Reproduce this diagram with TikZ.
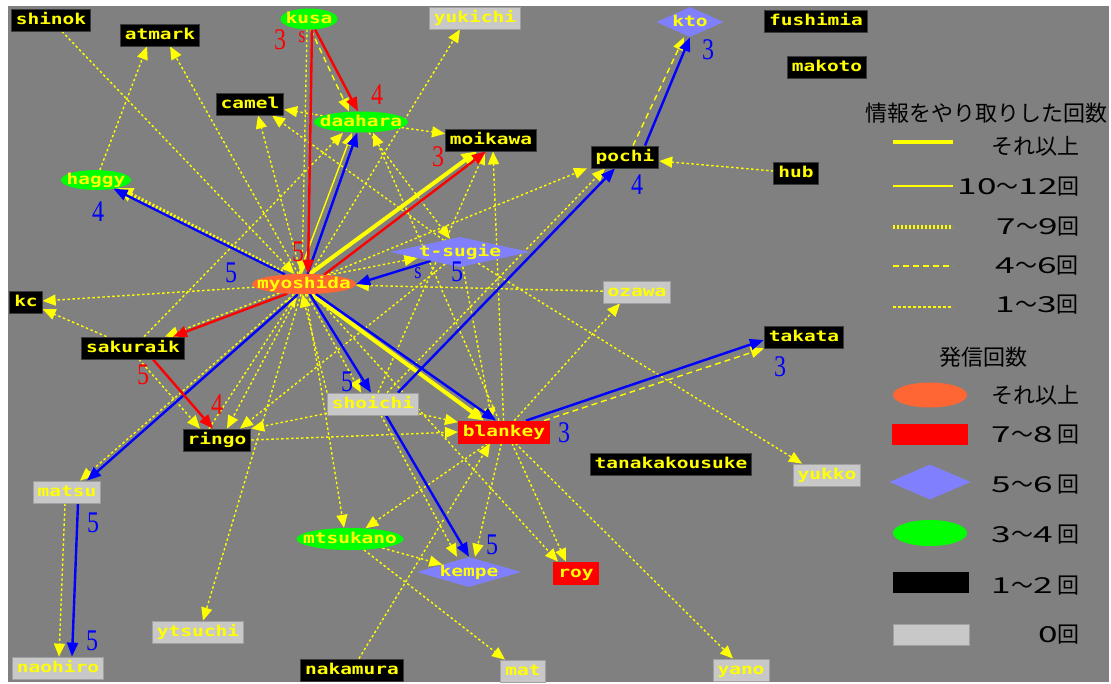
\documentclass[tikz,border=0pt]{standalone}
\usepackage{fontspec}
\setmainfont{Liberation Serif}
\newfontfamily\nodefont{DejaVu Sans Mono}[FakeStretch=1.3]
\newfontfamily\numfont{Liberation Serif}[FakeStretch=0.8]
\newfontfamily\jpfont{Noto Sans CJK JP}
\newfontfamily\jpwide{Noto Sans CJK JP}[FakeStretch=1.6]
\usetikzlibrary{arrows.meta,shapes.geometric}
\definecolor{mlGrey}{HTML}{808080}
\definecolor{mlPale}{HTML}{C8C8C8}
\definecolor{mlLilac}{HTML}{8080FF}
\definecolor{mlOrange}{HTML}{FF6633}
\definecolor{mlYellow}{HTML}{FFFF00}
\definecolor{mlBlue}{HTML}{0000FF}
\definecolor{mlRed}{HTML}{FF0000}
\definecolor{mlGreen}{HTML}{00FF00}
\pgfdeclarelayer{paper}
\pgfdeclarelayer{edges}
\pgfsetlayers{paper,edges,main}
\newcommand\zw[1]{\makebox[0pt]{#1}}
\newcommand\wdg[1]{{\jpwide #1}}

\begin{document}
\begin{tikzpicture}[x=1pt,y=-1pt,line join=round]
\useasboundingbox (0,0) rectangle (1111,683);
\begin{pgfonlayer}{paper}
\path[fill=white] (0,0) rectangle (1111,683);
\path[fill=mlGrey] (8,6) rectangle (1109,682);
\end{pgfonlayer}
\tikzset{who/.style={font=\nodefont\bfseries\fontsize{15pt}{15pt}\selectfont,text=mlYellow,text height=11pt,text depth=3pt},
nbox/.style={who,rectangle,fill=black,draw=black!55!mlGrey,line width=0.8pt,minimum height=22pt,inner xsep=4.5pt,inner ysep=0pt},
zbox/.style={nbox,fill=mlPale,draw=mlPale!80!black},rbox/.style={nbox,fill=mlRed,draw=mlRed},
gell/.style={who,ellipse,fill=mlGreen,inner sep=0pt},oell/.style={who,ellipse,fill=mlOrange,inner sep=0pt},ldia/.style={who,diamond,fill=mlLilac,inner sep=0pt},
bnum/.style={font=\numfont\fontsize{30pt}{30pt}\selectfont,text=mlBlue,inner sep=0pt},rnum/.style={bnum,text=mlRed},
bsml/.style={bnum,font=\numfont\fontsize{23pt}{23pt}\selectfont},rsml/.style={bsml,text=mlRed},
ex1/.style={draw=mlYellow,line width=1.4pt,dash pattern=on 2.5pt off 2.5pt,-{Triangle[length=13pt,width=11pt]}},
ex4/.style={ex1,dash pattern=on 6pt off 4pt},ex7/.style={ex1,line width=4.5pt,dash pattern=on 2pt off 2pt,-{Triangle[length=15pt,width=14pt]}},
ex10/.style={ex1,solid},exmax/.style={ex1,solid,line width=4pt,-{Triangle[length=15pt,width=14pt]}},
blu/.style={draw=mlBlue,line width=2.4pt,-{Triangle[length=14pt,width=11pt]}},rd/.style={blu,draw=mlRed},
jp/.style={font=\jpfont\fontsize{22pt}{22pt}\selectfont,text=black,inner sep=0pt}}
\node[nbox] (shinok) at (51,20) {shinok};
\node[nbox] (atmark) at (160,35) {atmark};
\node[gell,minimum width=57pt,minimum height=21pt] (kusa) at (309,19) {\zw{kusa}};
\node[nbox] (camel) at (250,104) {camel};
\node[gell,minimum width=94pt,minimum height=21pt] (daahara) at (361,122) {\zw{daahara}};
\node[gell,minimum width=70pt,minimum height=17pt] (haggy) at (96,180) {\zw{haggy}};
\node[zbox] (yukichi) at (475,18) {yukichi};
\node[ldia,minimum width=67pt,minimum height=30pt] (kto) at (690,22) {\zw{kto}};
\node[nbox] (moikawa) at (491,140) {moikawa};
\node[nbox] (pochi) at (625,157) {pochi};
\node[nbox] (fushimia) at (816,21) {fushimia};
\node[nbox] (makoto) at (827,67) {makoto};
\node[nbox] (hub) at (796,173) {hub};
\node[nbox] (kc) at (26,302) {kc};
\node[oell,minimum width=104pt,minimum height=20pt] (myoshida) at (304,284) {\zw{myoshida}};
\node[nbox] (sakuraik) at (133,348) {sakuraik};
\node[nbox] (ringo) at (217,440) {ringo};
\node[zbox] (shoichi) at (373,404) {shoichi};
\node[ldia,minimum width=140pt,minimum height=30pt] (tsugie) at (460,252) {\zw{t-sugie}};
\node[zbox] (ozawa) at (637,292) {ozawa};
\node[rbox] (blankey) at (504,432) {blankey};
\node[nbox] (takata) at (804,337) {takata};
\node[nbox] (tanaka) at (671,464) {tanakakousuke};
\node[zbox] (yukko) at (827,475) {yukko};
\node[zbox] (matsu) at (67,492) {matsu};
\node[zbox] (naohiro) at (58,668) {naohiro};
\node[zbox] (ytsuchi) at (198,632) {ytsuchi};
\node[gell,minimum width=107pt,minimum height=22pt] (mtsukano) at (350,539) {\zw{mtsukano}};
\node[ldia,minimum width=104pt,minimum height=30pt] (kempe) at (469,572) {\zw{kempe}};
\node[rbox] (roy) at (576,573) {roy};
\node[nbox] (nakamura) at (352,670) {nakamura};
\node[zbox] (mat) at (523,671) {mat};
\node[zbox] (yano) at (741,670) {yano};
\begin{pgfonlayer}{edges}
\draw[ex1] (shinok) -- (myoshida);
\draw[ex1] (haggy) -- ([xshift=-13pt]atmark.south); \draw[ex1] (myoshida) -- ([xshift=10pt]atmark.south);
\draw[ex1] (myoshida) -- ([xshift=8pt]camel.south); \draw[ex1] (tsugie) -- ([xshift=22pt]camel.south); \draw[ex1] (daahara) -- (camel);
\draw[ex1] ([xshift=-2pt]kusa.south) -- ([xshift=-2pt]myoshida.north);
\draw[ex1] (daahara) -- (moikawa); \draw[ex1] (myoshida) -- ([xshift=-15pt]yukichi.south); \draw[ex1] (daahara) -- (tsugie);
\draw[ex1] (myoshida) -- (kc); \draw[ex1] (sakuraik) -- (kc);
\draw[ex1] (myoshida.-160) -- ([xshift=32pt]sakuraik.north); \draw[ex1] (sakuraik) -- ([xshift=-18pt]daahara.south);
\draw[ex1] ([xshift=6pt]sakuraik.south) -- ([xshift=-17pt]ringo.north);
\draw[ex1] (myoshida) -- ([xshift=10pt]ringo.north); \draw[ex1] (tsugie) -- ([xshift=23pt]ringo.north);
\draw[ex1] (shoichi) -- (ringo.north east); \draw[ex1] (ringo.east) -- (blankey.west);
\draw[ex1] ([xshift=-8pt]ringo.north) -- (myoshida.-125);
\draw[ex1] (myoshida) -- ([xshift=-38pt]pochi.south); \draw[ex1] (hub) -- ([yshift=-4pt]pochi.east);
\draw[ex1] ([xshift=14pt]shoichi.north) -- ([xshift=-20pt]pochi.south);
\draw[ex1] (blankey) -- ([xshift=2pt]moikawa.south); \draw[ex1] (shoichi) -- ([xshift=-6pt]moikawa.south);
\draw[ex1] (ozawa) -- (myoshida); \draw[ex1] (blankey) -- ([xshift=-17pt]ozawa.south);
\draw[ex1] (tsugie) -- ([xshift=-25pt]yukko.north); \draw[ex1] (blankey) -- ([xshift=-8pt]yano.north);
\draw[ex1] (mtsukano) -- ([xshift=-18pt]mat.north); \draw[ex1] (nakamura) -- ([xshift=-14pt]blankey.south);
\draw[ex1] ([xshift=8pt]blankey.south) -- ([xshift=-10pt]roy.north); \draw[ex1] (myoshida) -- ([xshift=-18pt]roy.north);
\draw[ex1] (blankey) -- ([xshift=6pt]kempe.north); \draw[ex1] (mtsukano) -- (kempe);
\draw[ex1] ([xshift=8pt]shoichi.south) -- ([xshift=-12pt]kempe.north);
\draw[ex1] (myoshida) -- ([xshift=-6pt]mtsukano.north); \draw[ex1] (blankey) -- (mtsukano);
\draw[ex1] (myoshida) -- ([xshift=5pt]ytsuchi.north);
\draw[ex1] ([xshift=-2pt]matsu.south) -- ([xshift=1pt]naohiro.north);
\draw[ex1] (myoshida.-135) -- ([xshift=13pt]matsu.north);
\draw[ex1] (myoshida.20) -- (tsugie.-172); \draw[ex1] (myoshida.-75) -- ([xshift=-12pt]shoichi.north);
\draw[ex1] (shoichi) -- (blankey); \draw[ex1] (blankey) -- ([xshift=12pt]daahara.south);
\draw[ex1] (tsugie) -- ([xshift=-12pt]blankey.north); \draw[ex1] (shoichi.north west) -- (myoshida.-100);
\draw[ex4] (kusa.-80) -- ([xshift=-12pt]daahara.north);
\draw[ex4] ([xshift=8pt]pochi.north) -- ([xshift=-6pt]kto.south);
\draw[ex4] ([xshift=40pt]blankey.north) -- (takata.south west);
\draw[ex7] ([shift={(-22,-12)}]myoshida.center) -- (haggy.-20);
\draw[ex10] ([xshift=-5pt]myoshida.north) -- ([xshift=-9pt]daahara.south);
\draw[exmax] (myoshida.60) -- ([xshift=-14pt]moikawa.south);
\draw[exmax] (myoshida.-55) -- ([xshift=-20pt]blankey.north);
\draw[blu] (myoshida) -- (haggy);
\draw[blu] (myoshida) -- (daahara);
\draw[blu] (tsugie.-163) -- (myoshida.east);
\draw[blu] (myoshida.-60) -- ([xshift=-2pt]shoichi.north);
\draw[blu] (myoshida.-40) -- ([xshift=-8pt]blankey.north);
\draw[blu] (myoshida.-120) -- ([xshift=20pt]matsu.north);
\draw[blu] ([xshift=11pt]matsu.south) -- ([xshift=14pt]naohiro.north);
\draw[blu] ([xshift=22pt]blankey.north) -- ([yshift=-3pt]takata.west);
\draw[blu] ([xshift=25pt]shoichi.north) -- ([xshift=-10pt]pochi.south);
\draw[blu] ([xshift=20pt]pochi.north) -- (kto.south);
\draw[blu] ([xshift=13pt]shoichi.south) -- (kempe.north);
\draw[rd] ([xshift=3pt]kusa.south) -- ([xshift=4pt]myoshida.north);
\draw[rd] (kusa.-60) -- ([xshift=-3pt]daahara.north);
\draw[rd] (myoshida.25) -- ([xshift=-5pt]moikawa.south);
\draw[rd] (myoshida.-150) -- ([xshift=40pt]sakuraik.north);
\draw[rd] ([xshift=20pt]sakuraik.south) -- ([xshift=-4pt]ringo.north);
\end{pgfonlayer}
\node[bnum] (n4haggy) at (98,212) {4}; \node[bnum] (n5left) at (231,273) {5};
\node[bnum] (n5shoichi) at (347,382) {5}; \node[bsml] (nsSugie) at (418,273) {s}; \node[bnum] (n5sugie) at (457,272) {5};
\node[bnum] (n3blankey) at (564,433) {3}; \node[bnum] (n3takata) at (780,367) {3};
\node[bnum] (n4pochi) at (637,185) {4}; \node[bnum] (n3kto) at (708,50) {3}; \node[bnum] (n5kempe) at (492,545) {5};
\node[bnum] (n5matsu) at (93,523) {5}; \node[bnum] (n5naohiro) at (92,641) {5};
\node[rnum] (n3kusa) at (280,40) {3}; \node[rsml] (nsKusa) at (302,37) {s}; \node[rnum] (n4daahara) at (377,95) {4};
\node[rnum] (n5myoshida) at (298,252) {5}; \node[rnum] (n3moikawa) at (438,157) {3};
\node[rnum] (n5sakuraik) at (143,375) {5}; \node[rnum] (n4ringo) at (217,405) {4};
\node[jp] (keyTitleA) at (986,113) {情報をやり取りした回数};
\coordinate (k1a) at (893,142); \coordinate (k1b) at (953,142); \draw[exmax,-] (k1a) -- (k1b);
\coordinate (k2a) at (893,186); \coordinate (k2b) at (953,186); \draw[ex10,-] (k2a) -- (k2b);
\coordinate (k3a) at (893,227); \coordinate (k3b) at (953,227); \draw[ex7,-] (k3a) -- (k3b);
\coordinate (k4a) at (893,266); \coordinate (k4b) at (953,266); \draw[ex4,-] (k4a) -- (k4b);
\coordinate (k5a) at (893,307); \coordinate (k5b) at (953,307); \draw[ex1,-] (k5a) -- (k5b);
\node[jp,anchor=east] (keyLineA) at (1080,146) {それ以上}; \node[jp,anchor=east] (keyLineB) at (1080,187) {\wdg{10}〜\wdg{12}回};
\node[jp,anchor=east] (keyLineC) at (1080,227) {\wdg{7}〜\wdg{9}回}; \node[jp,anchor=east] (keyLineD) at (1079,266) {\wdg{4}〜\wdg{6}回};
\node[jp,anchor=east] (keyLineE) at (1079,305) {\wdg{1}〜\wdg{3}回};
\node[jp] (keyTitleB) at (983,357) {発信回数};
\node[ellipse,fill=mlOrange,minimum width=74pt,minimum height=25pt,inner sep=0pt] (keyOval) at (930,395) {};
\node[rectangle,fill=mlRed,minimum width=76pt,minimum height=21pt,inner sep=0pt] (keyRed) at (930,434) {};
\node[diamond,fill=mlLilac,minimum width=81pt,minimum height=35pt,inner sep=0pt] (keyDia) at (930,482) {};
\node[ellipse,fill=mlGreen,minimum width=74pt,minimum height=26pt,inner sep=0pt] (keyGreen) at (930,533) {};
\node[rectangle,fill=black,minimum width=76pt,minimum height=21pt,inner sep=0pt] (keyBlack) at (931,582) {};
\node[rectangle,fill=mlPale,draw=mlPale!80!black,minimum width=76pt,minimum height=21pt,inner sep=0pt] (keyPale) at (931,635) {};
\node[jp,anchor=east] (keyShapeA) at (1080,395) {それ以上}; \node[jp,anchor=east] (keyShapeB) at (1080,435) {\wdg{7}〜\wdg{8} 回};
\node[jp,anchor=east] (keyShapeC) at (1080,485) {\wdg{5}〜\wdg{6} 回}; \node[jp,anchor=east] (keyShapeD) at (1080,535) {\wdg{3}〜\wdg{4} 回};
\node[jp,anchor=east] (keyShapeE) at (1080,586) {\wdg{1}〜\wdg{2} 回}; \node[jp,anchor=east] (keyShapeF) at (1080,635) {\wdg{0}回};
\end{tikzpicture}
\end{document}
